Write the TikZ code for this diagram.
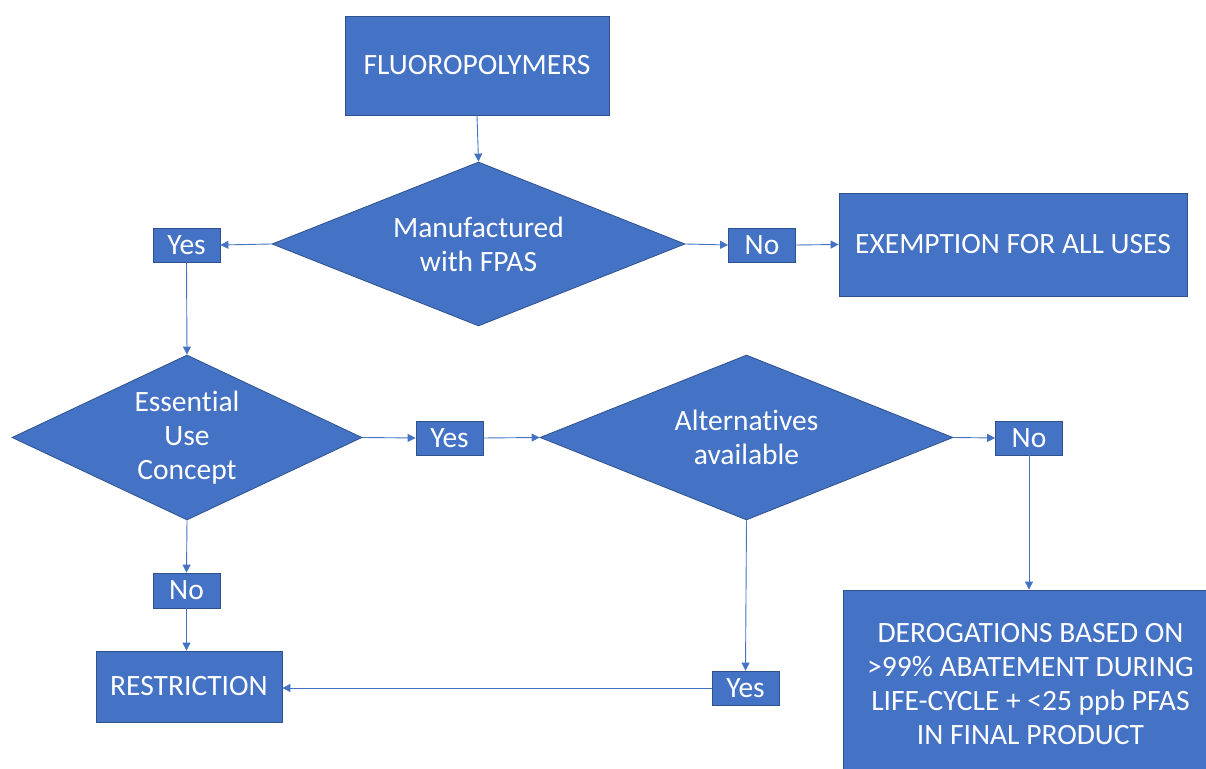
\documentclass[tikz,border=0pt]{standalone}
\usepackage{fontspec}
\setmainfont{Carlito}[Ligatures=NoCommon]
\usetikzlibrary{shapes.geometric,arrows.meta}
\definecolor{boxblue}{HTML}{4472C4}
\definecolor{edgeblue}{HTML}{2F528F}
\begin{document}
\begin{tikzpicture}[x=1bp,y=1bp,
  base/.style={fill=boxblue,draw=edgeblue,line width=0.8bp,text=white,inner sep=0pt,
    font=\fontsize{29.5bp}{33.8bp}\selectfont,align=center},
  box/.style={base,rectangle},
  lab/.style={base,rectangle,minimum width=67bp,minimum height=34bp},
  dec/.style={base,diamond,aspect=2.5},
  conn/.style={draw=boxblue,line width=0.9bp,-{Triangle[length=8bp,width=8bp]}}]
\useasboundingbox (0,0) rectangle (1206,769);
\node[box,minimum width=264bp,minimum height=99bp] (fluoro) at (477,703.5) {FLUOROPOLYMERS};
\node[dec,minimum width=413bp,minimum height=164bp] (man) at (478.5,525) {Manufactured\\with FPAS};
\node[lab] (yes1) at (186.5,524) {Yes};
\node[lab] (no1) at (762,524) {No};
\node[box,minimum width=348bp,minimum height=103bp] (exempt) at (1013,524.5) {EXEMPTION FOR ALL USES};
\node[dec,minimum width=350bp,minimum height=165bp] (ess) at (187,331.5) {Essential\\Use\\Concept};
\node[lab] (yes2) at (449.5,331) {Yes};
\node[dec,minimum width=413bp,minimum height=165bp] (alt) at (746.5,331.5) {Alternatives\\available};
\node[lab] (no2) at (1029,331) {No};
\node[lab,minimum height=35bp] (no3) at (186.5,178.5) {No};
\node[box,minimum width=186bp,minimum height=71bp] (restr) at (189,82.5) {RESTRICTION};
\node[lab] (yes3) at (745.5,81) {Yes};
\node[box,minimum width=375bp,minimum height=188bp] (derog) at (1030.5,85) {DEROGATIONS BASED ON\\>99\% ABATEMENT DURING\\LIFE-CYCLE + <25 ppb PFAS\\IN FINAL PRODUCT};
\draw[conn] (fluoro.south) -- (man.north);
\draw[conn] (man.west) -- (yes1.east);
\draw[conn] (yes1.south) -- (ess.north);
\draw[conn] (man.east) -- (no1.west);
\draw[conn] (no1.east) -- (exempt.west);
\draw[conn] (ess.east) -- (yes2.west);
\draw[conn] (yes2.east) -- (alt.west);
\draw[conn] (alt.east) -- (no2.west);
\draw[conn] (no2.south) -- (no2.south |- derog.north);
\draw[conn] (ess.south) -- (no3.north);
\draw[conn] (no3.south) -- (no3.south |- restr.north);
\draw[conn] (alt.south) -- (yes3.north);
\draw[conn] (yes3.west) -- (yes3.west -| restr.east);
\end{tikzpicture}
\end{document}
